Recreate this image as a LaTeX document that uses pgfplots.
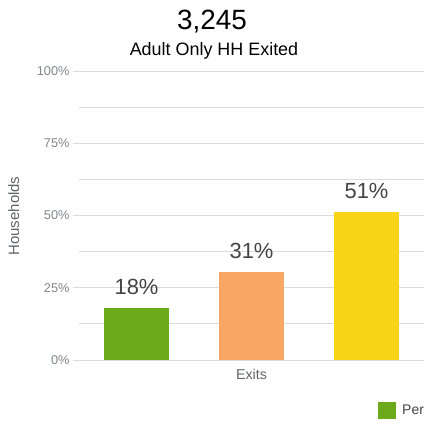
\documentclass[border=0pt]{standalone}
\usepackage{fontspec}
\setmainfont{Liberation Sans}
\usepackage{pgfplots}
\pgfplotsset{compat=1.18}
\definecolor{cgreen}{HTML}{6CAA1C}
\definecolor{corange}{HTML}{F9A762}
\definecolor{cyellow}{HTML}{F8D316}
\definecolor{gridc}{HTML}{DADCE0}
\definecolor{tickc}{HTML}{80868B}
\definecolor{labelc}{HTML}{5F6368}
\definecolor{valc}{HTML}{444444}
\begin{document}
\begin{tikzpicture}[x=1bp,y=1bp]
\useasboundingbox (0,0) rectangle (424,424);
\clip (0,0) rectangle (424,424);
\node[anchor=base, inner sep=0pt, font=\fontsize{28}{30}\selectfont] at (212,394) {3,245};
\node[anchor=base, inner sep=0pt, font=\fontsize{18}{20}\selectfont] at (214,368.3) {Adult Only HH Exited};
\node[anchor=base, rotate=90, inner sep=0pt, text=labelc, font=\fontsize{15}{17}\selectfont] at (19,208) {Households};
\begin{axis}[
  at={(79bp,64bp)}, anchor=south west,
  scale only axis, width=345bp, height=289bp,
  /pgf/number format/assume math mode=true,
  xmin=-0.5, xmax=0.5, ymin=0, ymax=100,
  xtick={0}, xticklabels={Exits},
  x tick style={draw=none},
  xticklabel style={text=labelc, font=\fontsize{14.3}{16}\selectfont},
  ytick={0,25,50,75,100},
  minor ytick={12.5,37.5,62.5,87.5},
  yticklabel={\pgfmathprintnumber{\tick}\%},
  yticklabel style={text=tickc, font=\fontsize{12.8}{15}\selectfont},
  y tick style={draw=gridc, line width=0.8bp},
  minor y tick style={draw=none},
  tick align=outside, major tick length=6bp,
  tick pos=left,
  ymajorgrids, yminorgrids,
  major grid style={draw=gridc, line width=0.8bp},
  minor grid style={draw=gridc, line width=0.8bp},
  axis line style={draw=none},
  nodes near coords={\pgfmathprintnumber[fixed,precision=0]{\pgfplotspointmeta}\%},
  nodes near coords style={text=valc, font=\fontsize{22}{24}\selectfont, anchor=south, inner sep=0pt, yshift=13bp},
  legend columns=-1,
  legend style={at={(0.8667,-0.1747)}, anchor=west, draw=none, fill=none, inner sep=0pt,
    font=\fontsize{14}{16}\selectfont, text=valc,
    /tikz/every odd column/.append style={column sep=4bp},
    /tikz/every even column/.append style={column sep=20bp}},
  legend image code/.code={\fill[#1] (0bp,-8.5bp) rectangle (18bp,8.5bp);},
  clip=false,
]
\addplot[ybar, bar width=65bp, bar shift=-115bp, fill=cgreen, draw=none,
  every node near coord/.append style={xshift=-115bp}] coordinates {(0,18.0)};
\addplot[ybar, bar width=65bp, bar shift=0bp, fill=corange, draw=none] coordinates {(0,30.6)};
\addplot[ybar, bar width=65bp, bar shift=115bp, fill=cyellow, draw=none,
  every node near coord/.append style={xshift=115bp}] coordinates {(0,51.2)};
\legend{Permanent Destinations, Temporary Destinations, Unknown/Other}
\end{axis}
\end{tikzpicture}
\end{document}
